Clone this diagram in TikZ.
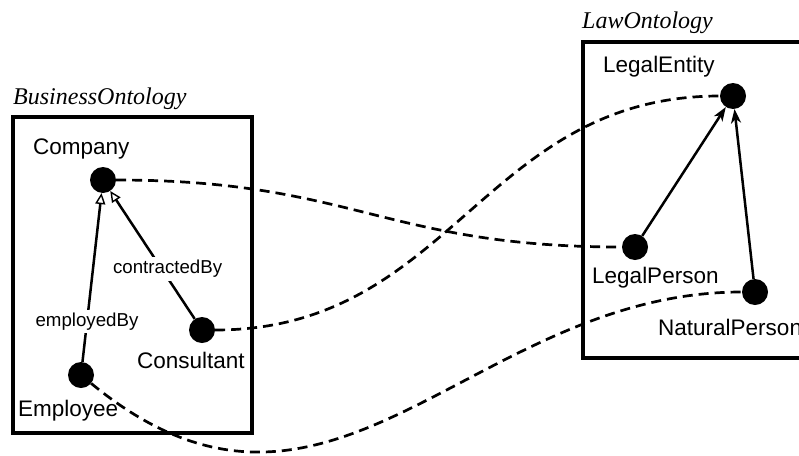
\documentclass[tikz,border=0pt]{standalone}
\usepackage{fontspec}
\setmainfont{Liberation Serif}
\newfontfamily\arialf{Liberation Sans}
\usetikzlibrary{arrows.meta}
\tikzset{
  dot/.style={circle,fill=black,draw=none,minimum size=26pt,inner sep=0pt},
  cname/.style={anchor=base west,inner sep=0pt,font=\arialf\fontsize{22.5}{27}\selectfont},
  oname/.style={anchor=base west,inner sep=0pt,font=\itshape\fontsize{24}{29}\selectfont},
  elabel/.style={fill=white,inner sep=3pt,font=\arialf\fontsize{18.7}{22}\selectfont},
  ontobox/.style={line width=3.4pt},
  genarrow/.style={line width=2.5pt,-{Triangle[open,length=11pt,width=10pt,line width=1.4pt]}},
  subarrow/.style={line width=2.5pt,-{Stealth[length=14pt,width=10pt,inset=4pt]}},
  mapping/.style={line width=2.7pt,dash pattern=on 10pt off 6pt},
}
\begin{document}
\begin{tikzpicture}[x=1pt,y=-1pt]
\useasboundingbox (0,0) rectangle (799,455);
\clip (0,0) rectangle (799,455);
% boxes
\draw[ontobox] (13,117) rectangle (252,433);
\draw[ontobox] (583,42) rectangle (840,358);
\node[oname] (bo) at (13,104) {BusinessOntology};
\node[oname] (lo) at (582,28) {LawOntology};
% dots
\node[dot] (company) at (103,180) {};
\node[dot] (consultant) at (202,330) {};
\node[dot] (employee) at (81,375) {};
\node[dot] (legalentity) at (733,96) {};
\node[dot] (legalperson) at (635,247) {};
\node[dot] (naturalperson) at (755,292) {};
% names
\node[cname] (companyT) at (33,154) {Company};
\node[cname] (consultantT) at (137,368) {Consultant};
\node[cname] (employeeT) at (18,416) {Employee};
\node[cname] (legalentityT) at (603,72) {LegalEntity};
\node[cname] (legalpersonT) at (592,283) {LegalPerson};
\node[cname] (naturalpersonT) at (658,335) {NaturalPerson};
% arrows
\draw[genarrow] (employee) -- node[elabel,pos=0.239] {employedBy} (company);
\draw[genarrow] (consultant) -- node[elabel,pos=0.392,xshift=6pt] {contractedBy} (company);
\draw[subarrow] (legalperson) -- (legalentity);
\draw[subarrow] (naturalperson) -- (legalentity);
% mappings
\draw[mapping] (company) .. controls (353,180) and (385,247) .. (legalperson);
\draw[mapping] (consultant) .. controls (452,330) and (483,96) .. (legalentity);
\draw[mapping] (employee) .. controls (330,580) and (470,292) .. (naturalperson);
\end{tikzpicture}
\end{document}
